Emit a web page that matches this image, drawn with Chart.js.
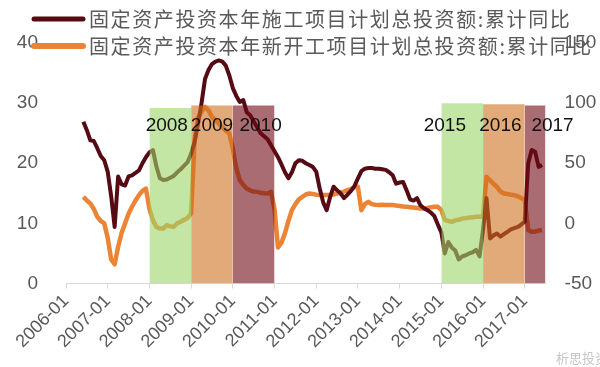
<!DOCTYPE html>
<html>
<head>
<meta charset="utf-8">
<script src="https://cdn.jsdelivr.net/npm/chart.js@4.4.1/dist/chart.umd.min.js"></script>
<style>
  html, body { margin: 0; padding: 0; background: #fff; }
</style>
</head>
<body>
<canvas id="chart" width="600" height="367"></canvas>
<script>
// monthly data, first point 2006-06
const firstMonth = '2006-06';
const tickLabels = ['2006-01', '2007-01', '2008-01', '2009-01', '2010-01', '2011-01',
                    '2012-01', '2013-01', '2014-01', '2015-01', '2016-01', '2017-01'];

// 固定资产投资本年施工项目计划总投资额:累计同比 (left axis)
const shigong = [
  26.9, 25.5, 23.8, 23.7, 22.5, 21.2, 20.5,                          // 2006-06..12
  18.6, 14.5, 9.4, 17.8, 16.5, 16.3, 17.8, 18.0, 18.4, 18.8, 20.0, 21.0, // 2007
  21.8, 22.2, 19.5, 17.5, 17.2, 17.3, 17.6, 17.9, 18.5, 19.0, 19.6, 20.2, // 2008
  21.6, 23.5, 26.6, 30.0, 34.0, 35.5, 36.5, 36.9, 37.1, 36.9, 36.2, 34.6, // 2009
  32.5, 31.2, 30.2, 30.5, 28.5, 28.0, 27.0, 26.0, 25.0, 24.5, 24.0, 23.0, // 2010
  22.0, 21.0, 19.8, 18.5, 17.5, 18.5, 20.0, 20.5, 20.4, 20.0, 19.7, 19.4, // 2011
  18.6, 15.8, 13.5, 12.2, 14.4, 16.1, 15.5, 15.0, 14.2, 14.8, 15.4, 16.2, // 2012
  17.5, 18.7, 19.1, 19.2, 19.2, 19.1, 19.1, 19.0, 18.9, 18.5, 18.0, 16.6, // 2013
  16.8, 16.9, 15.5, 14.0, 13.8, 14.2, 13.0, 12.5, 12.2, 11.8, 11.2, 9.8,  // 2014
  8.5, 5.0, 6.9, 6.0, 5.5, 4.0, 4.5, 4.7, 5.0, 5.2, 5.6, 4.5,            // 2015
  9.0, 14.2, 7.5, 8.0, 8.3, 7.8, 8.2, 8.6, 9.0, 9.2, 9.4, 9.8,           // 2016
  10.3, 20.0, 22.2, 21.9, 19.4, 19.7                                     // 2017-01..06
];

// 固定资产投资本年新开工项目计划总投资额:累计同比 (right axis)
const xinkaigong = [
  22, 19, 16.6, 12, 5.5, 2, 0,
  -12, -30, -34, -19.4, -8, 0, 8, 13.8, 19, 23.5, 27, 29,
  12, 2.7, -3, -4.2, -4.2, -1.4, -2.5, -2.8, 0, 1.3, 3, 4.5,
  8.3, 69, 88, 93, 96.8, 94, 88.5, 86, 83, 80, 77, 74.7,
  62, 46, 36, 32, 29, 27.5, 26.5, 26.2, 25.5, 25, 24.9, 26.2,
  12, -20, -16, -8.3, 2, 11, 16, 20, 22, 24, 24.9, 24.5,
  23.8, 23.5, 23.5, 23.5, 23.5, 24, 24.9, 25.5, 26.5, 27.6, 28.5, 30,
  30.4, 11, 16, 17.9, 16, 15.5, 15.2, 15.5, 15.2, 15.2, 15.2, 14.8,
  14.5, 14, 13.8, 13.5, 13.2, 12.8, 12.4, 12.4, 12.8, 13.5, 13.8, 13.8,
  11, 3, 2, 1.3, 2.5, 3, 4, 4.3, 4.8, 5, 5.5, 5.5,
  6, 38.7, 36, 33, 30.4, 26.5, 24.9, 24.5, 23.8, 23.5, 22.5, 21,
  19.4, -5.6, -6.9, -6.9, -6, -5.6
];

// shaded year bands (right axis height)
const bandNames = ['2008', '2009', '2010', '2015', '2016', '2017'];
const bandStart = ['2008-01', '2009-01', '2010-01', '2015-01', '2016-01', '2017-01'];
const bandEnd   = ['2009-01', '2010-01', '2011-01', '2016-01', '2017-01', '2017-07'];
const bandTop   = [96, 98, 98, 100, 99, 98];
const bandTextAt = ['2008-06', '2009-07', '2010-09', '2015-02', '2016-06', '2017-09'];
const bandColors = ['rgba(157,213,105,0.6)', 'rgba(207,112,32,0.6)', 'rgba(112,10,22,0.6)',
                    'rgba(157,213,105,0.6)', 'rgba(207,112,32,0.6)', 'rgba(112,10,22,0.6)'];

const DARK = '#560b14';
const ORANGE = '#ec8436';

function monthIndex(s) {
  const [y, m] = s.split('-').map(Number);
  return (y - 2006) * 12 + (m - 1);
}

const m0 = monthIndex(firstMonth);
const darkPts = shigong.map((v, i) => ({ x: m0 + i, y: v }));
const orangePts = xinkaigong.map((v, i) => ({ x: m0 + i, y: v }));

const bandSets = bandNames.map((name, i) => ({
  label: name,
  type: 'line',
  data: [{ x: monthIndex(bandStart[i]), y: bandTop[i] }, { x: monthIndex(bandEnd[i]), y: bandTop[i] }],
  yAxisID: 'y1',
  fill: 'start',
  backgroundColor: bandColors[i],
  borderWidth: 0,
  pointRadius: 0,
  order: 0
}));

const legendPlugin = {
  id: 'legendRows',
  afterDraw(chart) {
    const ctx = chart.ctx;
    const rows = [
      { text: '固定资产投资本年施工项目计划总投资额:累计同比', color: DARK, y: 19, w: 5 },
      { text: '固定资产投资本年新开工项目计划总投资额:累计同比', color: ORANGE, y: 46, w: 6 }
    ];
    ctx.save();
    rows.forEach(r => {
      ctx.strokeStyle = r.color;
      ctx.lineWidth = r.w;
      ctx.lineCap = 'round';
      ctx.beginPath();
      ctx.moveTo(34, r.y);
      ctx.lineTo(83, r.y);
      ctx.stroke();
      ctx.fillStyle = '#5a5a5a';
      ctx.font = '20px "Noto Sans CJK SC"';
      ctx.letterSpacing = '1.6px';
      ctx.textBaseline = 'middle';
      ctx.textAlign = 'left';
      ctx.fillText(r.text, 89, r.y);
    });
    ctx.letterSpacing = '0px';
    // year labels over the bands
    const xs = chart.scales.x;
    ctx.fillStyle = '#111';
    ctx.font = '19px "Liberation Sans"';
    ctx.textAlign = 'center';
    bandNames.forEach((name, i) => {
      ctx.fillText(name, xs.getPixelForValue(monthIndex(bandTextAt[i])), 126);
    });
    // watermark
    ctx.fillStyle = 'rgba(150,150,150,0.55)';
    ctx.font = '13px "Noto Sans CJK SC"';
    ctx.textAlign = 'left';
    ctx.fillText('析思投资', 556, 358);
    ctx.restore();
  }
};

new Chart(document.getElementById('chart'), {
  type: 'line',
  data: {
    datasets: [
      {
        label: '固定资产投资本年施工项目计划总投资额:累计同比',
        data: darkPts,
        yAxisID: 'y',
        borderColor: DARK,
        borderWidth: 4,
        pointRadius: 0,
        tension: 0,
        borderJoinStyle: 'round',
        order: 1
      },
      {
        label: '固定资产投资本年新开工项目计划总投资额:累计同比',
        data: orangePts,
        yAxisID: 'y1',
        borderColor: ORANGE,
        borderWidth: 4.5,
        pointRadius: 0,
        tension: 0,
        borderJoinStyle: 'round',
        order: 2
      },
      ...bandSets
    ]
  },
  options: {
    responsive: false,
    animation: false,
    layout: { padding: { top: 43, left: 0, right: 0, bottom: 0 } },
    plugins: { legend: { display: false }, tooltip: { enabled: false } },
    scales: {
      x: {
        type: 'linear',
        min: 0,
        max: 138,
        afterBuildTicks(s) { s.ticks = tickLabels.map(t => ({ value: monthIndex(t) })); },
        afterFit(s) { s.height = 83.5; s.paddingLeft = 0; s.paddingRight = 0; },
        ticks: {
          autoSkip: false,
          minRotation: 45,
          maxRotation: 45,
          padding: 2,
          color: '#595959',
          font: { family: 'Liberation Sans', size: 18 },
          callback: (v) => tickLabels.find(t => monthIndex(t) === v) || ''
        },
        grid: { drawOnChartArea: false, drawTicks: true, tickLength: 5, color: '#d9d9d9' },
        border: { color: '#d9d9d9' }
      },
      y: {
        position: 'left',
        min: 0,
        max: 40,
        afterFit(s) { s.width = 66; s.paddingTop = 0; s.paddingBottom = 0; },
        ticks: { stepSize: 10, padding: 20, color: '#595959', font: { family: 'Liberation Sans', size: 19 } },
        grid: { display: false },
        border: { display: false }
      },
      y1: {
        position: 'right',
        min: -50,
        max: 150,
        afterFit(s) { s.width = 54.4; s.paddingTop = 0; s.paddingBottom = 0; },
        ticks: { stepSize: 50, padding: 11, color: '#595959', font: { family: 'Liberation Sans', size: 19 } },
        grid: { display: false },
        border: { display: false }
      }
    }
  },
  plugins: [legendPlugin]
});
</script>
</body>
</html>
